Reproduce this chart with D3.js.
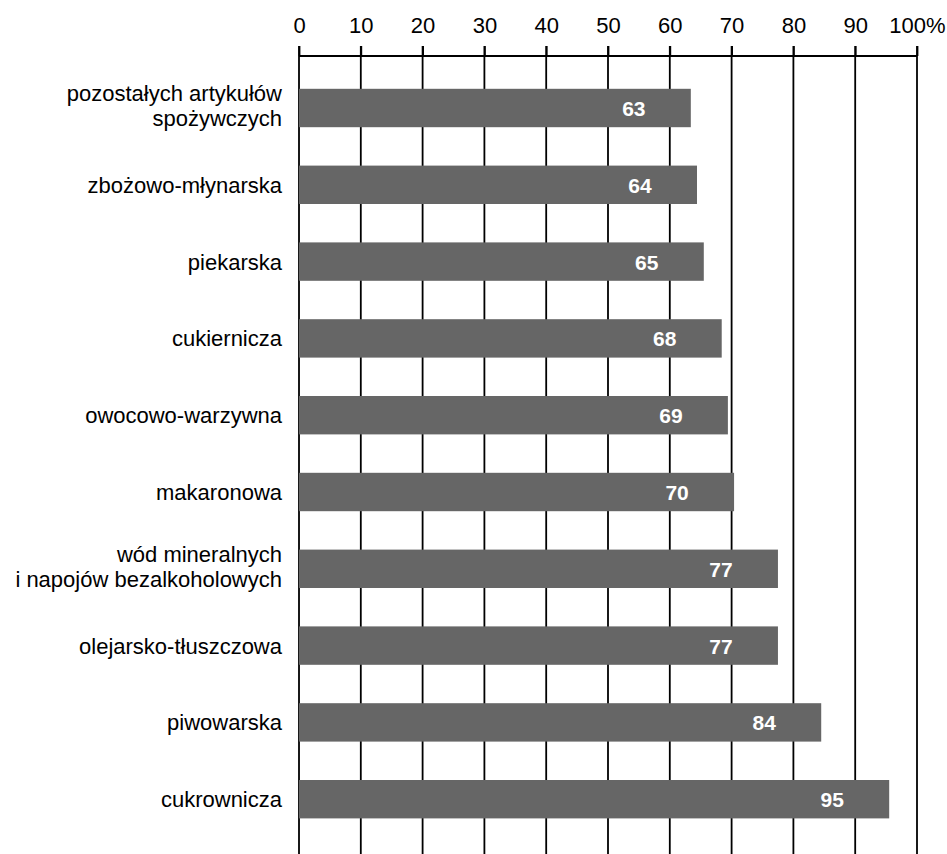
<!DOCTYPE html>
<html>
<head>
<meta charset="utf-8">
<script src="https://cdn.jsdelivr.net/npm/d3@7"></script>
<style>
  body { margin: 0; background: #fff; }
  text { font-family: "Liberation Sans", Arial, sans-serif; }
</style>
</head>
<body>
<script>
const categories = [
  ["pozostałych artykułów", "spożywczych"],
  ["zbożowo-młynarska"],
  ["piekarska"],
  ["cukiernicza"],
  ["owocowo-warzywna"],
  ["makaronowa"],
  ["wód mineralnych", "i napojów bezalkoholowych"],
  ["olejarsko-tłuszczowa"],
  ["piwowarska"],
  ["cukrownicza"]
];
const values = [63.4, 64.4, 65.5, 68.4, 69.4, 70.4, 77.5, 77.5, 84.5, 95.5];
const labels = ["63", "64", "65", "68", "69", "70", "77", "77", "84", "95"];
const ticks = [0, 10, 20, 30, 40, 50, 60, 70, 80, 90, 100];

const w = 947;
const h = 854;

const xScale = d3.scaleLinear().domain([0, 100]).range([299, 917]);
const yScale = d3
  .scaleBand()
  .domain(d3.range(categories.length))
  .range([69.6, 837.6])
  .paddingInner(0.5)
  .paddingOuter(0.25);

const svg = d3.select("body").append("svg").attr("width", w).attr("height", h);

// gridlines
svg
  .selectAll("line.grid")
  .data(ticks)
  .enter()
  .append("line")
  .attr("class", "grid")
  .attr("x1", (d) => xScale(d))
  .attr("x2", (d) => xScale(d))
  .attr("y1", 46)
  .attr("y2", h)
  .attr("stroke", "#000")
  .attr("stroke-width", 1.8);

// top axis
const xAxis = d3
  .axisTop(xScale)
  .tickValues(ticks)
  .tickSize(10)
  .tickPadding(13)
  .tickFormat((d) => (d === 100 ? "100%" : d));

const gx = svg.append("g").attr("transform", "translate(0,56)").call(xAxis);
gx.attr("font-size", 22).attr("font-family", "Liberation Sans, Arial, sans-serif");
gx.select(".domain").attr("stroke", "#000").attr("stroke-width", 1.8).attr("d", `M${xScale(0)},0H${xScale(100)}`);
gx.selectAll(".tick line").attr("stroke-width", 1.8);
gx.selectAll(".tick text").attr("fill", "#000");

// bars
svg
  .selectAll("rect.bar")
  .data(values)
  .enter()
  .append("rect")
  .attr("class", "bar")
  .attr("x", xScale(0))
  .attr("y", (d, i) => yScale(i))
  .attr("width", (d) => xScale(d) - xScale(0))
  .attr("height", yScale.bandwidth())
  .attr("fill", "#666666");

// value labels
svg
  .selectAll("text.val")
  .data(values)
  .enter()
  .append("text")
  .attr("class", "val")
  .attr("x", (d) => xScale(d) - 57)
  .attr("y", (d, i) => yScale(i) + yScale.bandwidth() / 2 + 8)
  .attr("text-anchor", "middle")
  .attr("font-size", 21)
  .attr("font-weight", "bold")
  .attr("fill", "#fff")
  .text((d, i) => labels[i]);

// category labels
const cat = svg
  .selectAll("text.cat")
  .data(categories)
  .enter()
  .append("text")
  .attr("class", "cat")
  .attr("text-anchor", "end")
  .attr("font-size", 22)
  .attr("fill", "#000");

cat.each(function (d, i) {
  const cy = yScale(i) + yScale.bandwidth() / 2;
  const lh = 25;
  const y0 = d.length > 1 ? cy - 7 : cy + 8;
  d3.select(this)
    .selectAll("tspan")
    .data(d)
    .enter()
    .append("tspan")
    .attr("x", 282)
    .attr("y", (t, j) => y0 + j * lh)
    .text((t) => t);
});
</script>
</body>
</html>
